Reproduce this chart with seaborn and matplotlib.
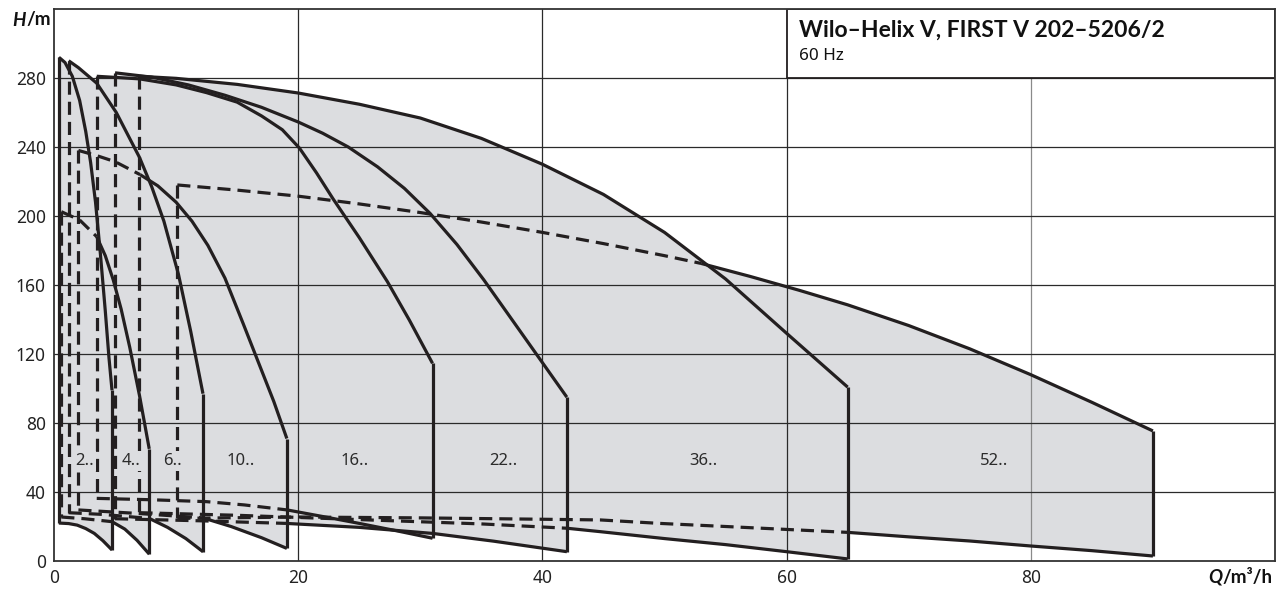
import numpy as np
import pandas as pd
import matplotlib
matplotlib.use("Agg")
import matplotlib.pyplot as plt
import seaborn as sns

# ---------------- data ----------------
labels = ["2..", "4..", "6..", "10..", "16..", "22..", "36..", "52.."]
label_q = [2.5, 6.3, 9.7, 15.3, 24.6, 36.8, 53.2, 77.0]
label_h = 58.0

# series 2..
s2_top_q = [0.4, 0.9, 1.5, 2.1, 2.6, 3.0, 3.4, 3.8, 4.2, 4.5, 4.75]
s2_top_h = [292, 289, 281, 267, 249, 231, 208, 178, 145, 118, 99]
s2_bot_q = [0.4, 1.2, 1.9, 2.6, 3.3, 4.0, 4.75]
s2_bot_h = [22, 21.7, 20.8, 18.8, 16, 11.8, 6.4]
# series 4..
s4_top_q = [0.6, 2.1, 3.5, 4.2, 4.85, 5.5, 6.2, 7.0, 7.8]
s4_top_h = [202.5, 197.7, 188, 177, 163, 146, 124, 96, 65]
s4_bot_q = [0.6, 2.5, 4.75, 5.8, 6.8, 7.8]
s4_bot_h = [25.5, 24.5, 22.8, 18.5, 12, 4]
# series 6..
s6_top_q = [1.2, 2.0, 3.5, 5.1, 7.0, 8.0, 9.0, 10.2, 11.2, 12.2]
s6_top_h = [290, 286, 277, 260, 234, 217, 197, 166, 133, 97]
s6_bot_q = [1.2, 4.0, 7.8, 9.3, 10.8, 12.2]
s6_bot_h = [28, 27, 24.7, 19.5, 13, 5.4]
# series 10..
s10_top_q = [2.0, 3.5, 5.0, 7.05, 8.5, 10.0, 11.3, 12.6, 14.0, 15.5, 17.0, 18.0, 19.07]
s10_top_h = [238, 235, 231.5, 224, 217.5, 208, 197, 183, 164, 137.5, 110.5, 92.5, 71]
s10_bot_q = [2.0, 7.0, 12.2, 14.5, 17.0, 19.07]
s10_bot_h = [29.6, 27.5, 25, 20, 13.5, 7.3]
# series 16..
s16_top_q = [3.5, 7, 10, 12.5, 15, 17, 18.7, 20.1, 21.5, 22.85, 25, 27.3, 29.1, 31]
s16_top_h = [281, 279.5, 276, 271.5, 266, 258, 250, 239.4, 225, 210, 187.5, 162, 139.7, 114.6]
s16_bot_q = [3.5, 8, 12.5, 15.6, 19.1, 22, 25, 28, 31]
s16_bot_h = [36.3, 35.5, 34.4, 32.5, 29.6, 25.8, 21.8, 17.6, 13.2]
# series 22..
s22_top_q = [5.0, 8, 11, 14, 17, 20, 22, 24.1, 26.5, 28.7, 30.8, 33, 35.2, 37.6, 40, 42]
s22_top_h = [283, 280.5, 276, 270, 263, 254.5, 248, 240, 228.5, 216, 201.5, 183.5, 163, 139, 115, 95]
s22_bot_q = [5.0, 12, 19, 25, 31, 36, 42]
s22_bot_h = [24.5, 23.3, 21.8, 19.5, 16, 11.5, 5.4]
# series 36..
s36_top_q = [7.0, 10, 15, 20, 25, 30, 35, 40, 45, 50, 55, 60, 65]
s36_top_h = [281, 279.8, 276.3, 271.3, 264.8, 256.8, 245, 230, 212.5, 190.5, 163.5, 132, 100.8]
s36_bot_q = [7.0, 15, 25, 35, 42, 44.75, 50, 55, 60, 65]
s36_bot_h = [28, 26.5, 24, 21.5, 19, 17, 13, 9.5, 5.4, 1.2]
# series 52..
s52_top_q = [10.1, 15, 20, 25, 30, 35, 40, 45, 50, 53, 57, 61, 65, 70, 75, 80, 85, 90]
s52_top_h = [218, 215, 211.5, 207, 202, 196.5, 190.5, 184, 177, 172.5, 165, 157, 148.5, 136.5, 123, 108, 92, 75.4]
s52_bot_q = [10.1, 20, 30, 40, 44.75, 49.6, 55, 60, 65, 70, 75, 80, 85, 90]
s52_bot_h = [24.7, 25.5, 25, 24.2, 23.8, 21.8, 20, 18.3, 16.6, 14, 11.6, 8.7, 6, 2.9]

tops_q = [s2_top_q, s4_top_q, s6_top_q, s10_top_q, s16_top_q, s22_top_q, s36_top_q, s52_top_q]
tops_h = [s2_top_h, s4_top_h, s6_top_h, s10_top_h, s16_top_h, s22_top_h, s36_top_h, s52_top_h]
bots_q = [s2_bot_q, s4_bot_q, s6_bot_q, s10_bot_q, s16_bot_q, s22_bot_q, s36_bot_q, s52_bot_q]
bots_h = [s2_bot_h, s4_bot_h, s6_bot_h, s10_bot_h, s16_bot_h, s22_bot_h, s36_bot_h, s52_bot_h]
# Q from which the upper / lower curve is drawn solid (dashed before)
top_solid_from = [0.4, 3.5, 1.2, 7.05, 3.5, 5.0, 7.0, 53]
bot_solid_from = [0.4, 4.75, 7.8, 12.2, 19.1, 19, 42, 65]
left_solid = [True, False, False, False, False, False, False, False]

x_ticks = [0, 20, 40, 60, 80]
y_ticks = [0, 40, 80, 120, 160, 200, 240, 280]
title = "Wilo–Helix V, FIRST V 202–5206/2"
subtitle = "60 Hz"

# ---------------- styling ----------------
sns.set_theme(style="white")
plt.rcParams["font.family"] = ["Noto Sans", "DejaVu Sans"]
BOLD = ["Lato", "Liberation Sans", "DejaVu Sans"]
INK = "#231f20"
FILL = "#dcdde0"
GRID = "#2a2a2a"
LW = 2.3
DASH = (0, (4.1, 2.2))

fig = plt.figure(figsize=(12.88, 5.93), dpi=100)
ax = fig.add_axes([54 / 1288, 32 / 593, (1275 - 54) / 1288, (561 - 9) / 593])
ax.set_xlim(0, 100)
ax.set_ylim(0, 320)


def line(qs, hs, dashed=False):
    df = pd.DataFrame({"Q": qs, "H": hs})
    sns.lineplot(data=df, x="Q", y="H", sort=False, estimator=None, ax=ax,
                 color=INK, linewidth=LW, linestyle=DASH if dashed else "-",
                 zorder=4, solid_capstyle="butt", dash_capstyle="butt",
                 solid_joinstyle="round")


# fills
for tq, th, bq, bh in zip(tops_q, tops_h, bots_q, bots_h):
    ax.fill(list(tq) + list(bq)[::-1], list(th) + list(bh)[::-1],
            color=FILL, lw=0, zorder=1)

# grid
for xv in x_ticks[1:]:
    ax.axvline(xv, color="#8a8a8a" if xv == 80 else GRID, lw=0.9, zorder=2)
for yv in y_ticks[1:]:
    ax.axhline(yv, color=GRID, lw=0.9, zorder=2)

# outlines
for i in range(len(labels)):
    tq, th, bq, bh = tops_q[i], tops_h[i], bots_q[i], bots_h[i]
    ts, bs = top_solid_from[i], bot_solid_from[i]
    tq_d = [q for q in tq if q <= ts]
    th_d = [h for q, h in zip(tq, th) if q <= ts]
    tq_s = [q for q in tq if q >= ts]
    th_s = [h for q, h in zip(tq, th) if q >= ts]
    if len(tq_d) > 1:
        line(tq_d, th_d, dashed=True)
    line(tq_s, th_s)
    bq_d = [q for q in bq if q <= bs]
    bh_d = [h for q, h in zip(bq, bh) if q <= bs]
    bq_s = [q for q in bq if q >= bs]
    bh_s = [h for q, h in zip(bq, bh) if q >= bs]
    if len(bq_d) > 1:
        line(bq_d, bh_d, dashed=True)
    line(bq_s, bh_s)
    # right edge
    line([tq[-1], bq[-1]], [th[-1], bh[-1]])
    # left edge
    line([tq[0], bq[0]], [th[0], bh[0]], dashed=not left_solid[i])

for lab, q in zip(labels, label_q):
    ax.text(q, label_h, lab, ha="center", va="center", fontsize=12,
            color="#2b2b2b", zorder=5,
            bbox=dict(boxstyle="square,pad=0.12", fc=FILL, ec="none"))

# title box
ax.add_patch(plt.Rectangle((60, 280), 40, 40, facecolor="white",
                           edgecolor=INK, lw=1.3, zorder=6))
ax.text(61.0, 307.8, title, ha="left", va="center", fontsize=16.5,
        fontweight="bold", family=BOLD, color="#111111", zorder=7)
ax.text(61.0, 292.8, subtitle, ha="left", va="center", fontsize=12.3,
        color="#111111", zorder=7)

ax.set_xticks(x_ticks)
ax.set_yticks(y_ticks)
ax.tick_params(length=0, labelsize=12.5, colors="#222222", pad=6)
ax.set_xlabel("")
ax.set_ylabel("")
for sp in ax.spines.values():
    sp.set_color("#333333")
    sp.set_linewidth(1.3)
    sp.set_zorder(8)

fig.text(26 / 1288, 1 - 20 / 593, "H", ha="right", va="center", fontsize=13.5,
         fontweight="bold", fontstyle="italic", family=BOLD, color="#111111")
fig.text(26 / 1288, 1 - 20 / 593, "/m", ha="left", va="center", fontsize=13.5,
         fontweight="bold", family=BOLD, color="#111111")
fig.text(1222 / 1288, 1 - 577 / 593, "Q", ha="right", va="center", fontsize=13.5,
         fontweight="bold", fontstyle="italic", family=BOLD, color="#111111")
fig.text(1222 / 1288, 1 - 577 / 593, "/m³/h", ha="left", va="center", fontsize=13.5,
         fontweight="bold", family=BOLD, color="#111111")

fig.savefig("out.png", dpi=100)
